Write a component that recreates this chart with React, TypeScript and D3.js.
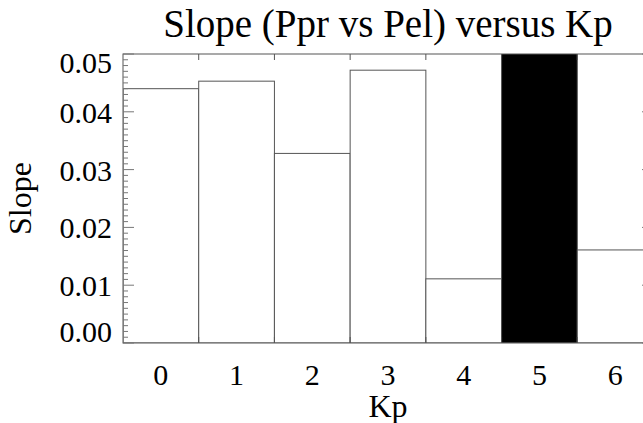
import React from 'react';
import * as d3 from 'd3';

// Kp bins and the fitted slope in each one
const kpBins = [0, 1, 2, 3, 4, 5, 6];
const slopes = [0.0440, 0.0453, 0.0328, 0.0472, 0.0111, 0.0620, 0.0161];
const highlightKp = 5;

const yTickValues = [0, 0.01, 0.02, 0.03, 0.04, 0.05];
const yTickLabels = ['0.00', '0.01', '0.02', '0.03', '0.04', '0.05'];
const xTickLabels = ['0', '1', '2', '3', '4', '5', '6'];

const width = 643;
const height = 423;
const margin = { top: 54, right: -10, bottom: 80, left: 123 };

export default function App() {
  const x = d3.scaleLinear()
    .domain([-0.5, 6.5])
    .range([margin.left, width - margin.right]);
  const y = d3.scaleLinear()
    .domain([0, 0.05])
    .range([height - margin.bottom, margin.top]);

  const [x0, x1] = x.range();
  const [yb, yt] = y.range();
  const minorTicks = d3.range(0, 51).map(i => i / 1000);
  const edges = d3.range(0.5, 6, 1);

  const serif = '"Liberation Serif", "Times New Roman", serif';
  const axisColor = '#555';

  return (
    <svg width={width} height={height}
         style={{ position: 'absolute', left: 0, top: 0, background: '#fff' }}
         fontFamily={serif}>
      <defs>
        <clipPath id="plot-clip">
          <rect x={x0} y={yt} width={x1 - x0} height={yb - yt} />
        </clipPath>
      </defs>
      <rect x={0} y={0} width={width} height={height} fill="#fff" />

      <g clipPath="url(#plot-clip)">
        {kpBins.map((k, i) => (
          <rect key={k}
                x={x(k - 0.5)} width={x(k + 0.5) - x(k - 0.5)}
                y={y(slopes[i])} height={yb - y(slopes[i])}
                fill={k === highlightKp ? '#000' : '#fff'}
                stroke={axisColor} strokeWidth={1} />
        ))}
      </g>

      {/* frame */}
      <rect x={x0} y={yt} width={x1 - x0} height={yb - yt}
            fill="none" stroke={axisColor} strokeWidth={1} />

      {/* y ticks, left and right */}
      {minorTicks.map(t => {
        const major = Math.round(t * 1000) % 10 === 0;
        const len = major ? 11 : 5;
        return (
          <g key={t} stroke="#777" strokeWidth={1}>
            <line x1={x0} x2={x0 + len} y1={y(t)} y2={y(t)} />
            <line x1={x1} x2={x1 - len} y1={y(t)} y2={y(t)} />
          </g>
        );
      })}

      {/* x ticks at bin edges */}
      {edges.map(e => (
        <g key={e} stroke={axisColor} strokeWidth={1}>
          <line x1={x(e)} x2={x(e)} y1={yt} y2={yt + 6} />
          <line x1={x(e)} x2={x(e)} y1={yb} y2={yb - 6} />
        </g>
      ))}

      {/* y tick labels, kept inside the frame's height */}
      {yTickValues.map((t, i) => {
        const base = Math.max(yt + 19, Math.min(yb - 1, y(t) + 11));
        return (
          <text key={t} x={x0 - 11} y={base} textAnchor="end" fontSize={30}>
            {yTickLabels[i]}
          </text>
        );
      })}

      {/* x tick labels */}
      {kpBins.map((k, i) => (
        <text key={k} x={x(k)} y={385} textAnchor="middle" fontSize={30}>
          {xTickLabels[i]}
        </text>
      ))}

      <text x={(x0 + x1) / 2} y={417} textAnchor="middle" fontSize={32}>Kp</text>
      <text transform={`translate(31,${(yt + yb) / 2}) rotate(-90)`}
            textAnchor="middle" fontSize={32}>Slope</text>
      <text x={(x0 + x1) / 2} y={37} textAnchor="middle" fontSize={39}>
        Slope (Ppr vs Pel) versus Kp
      </text>
    </svg>
  );
}
